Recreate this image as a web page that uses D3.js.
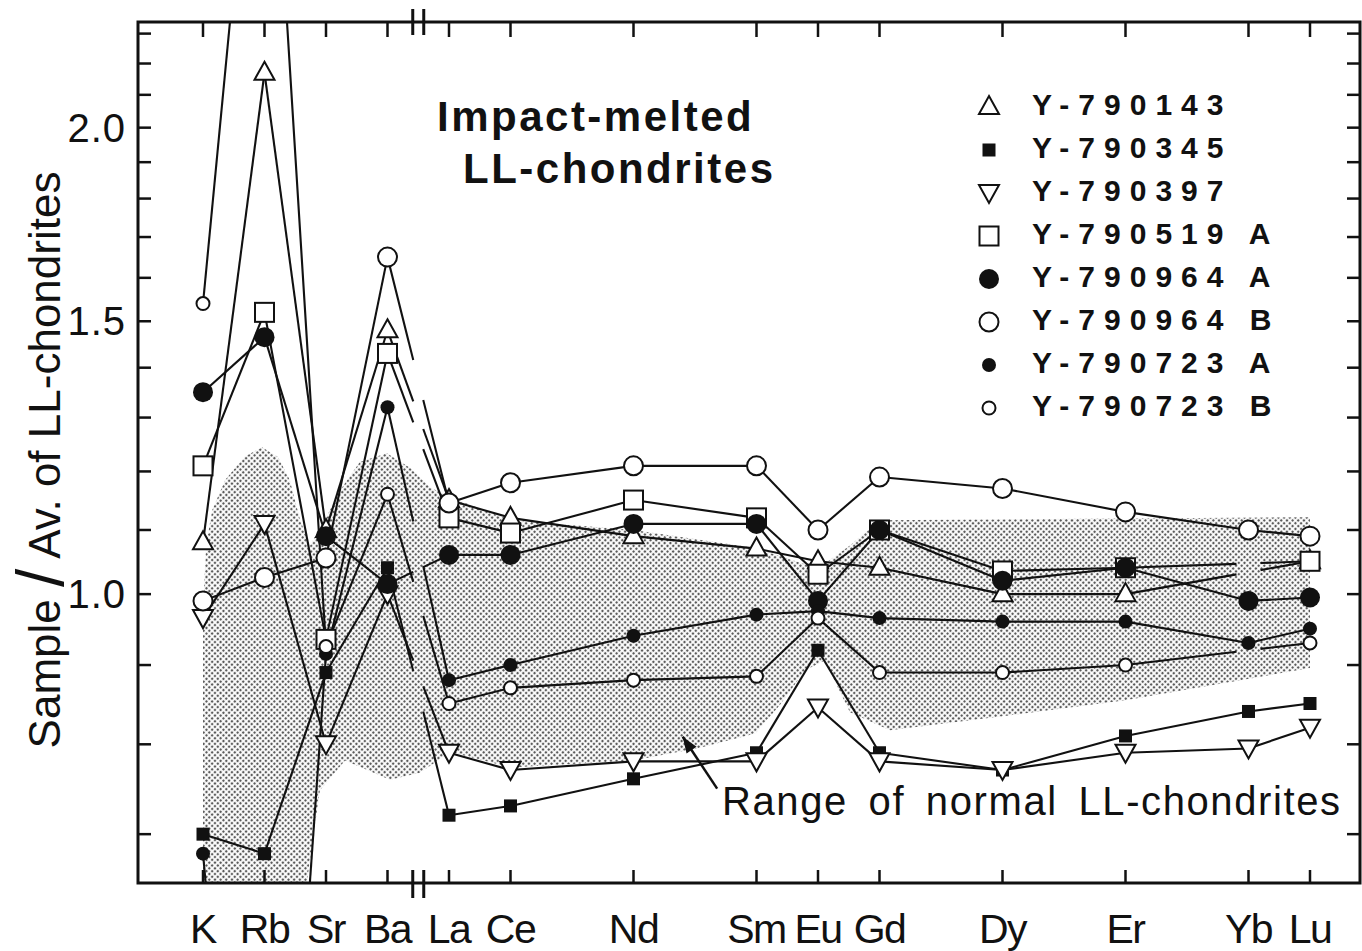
<!DOCTYPE html>
<html>
<head>
<meta charset="utf-8">
<script src="https://cdn.jsdelivr.net/npm/d3@7"></script>
<style>
  body { margin: 0; background: #fff; }
  text { font-family: "Liberation Sans", Arial, Helvetica, sans-serif; fill: #111; }
</style>
</head>
<body>
<svg id="chart" width="1362" height="951"></svg>
<script>
// ---- data -------------------------------------------------------------
const elements = ["K", "Rb", "Sr", "Ba", "La", "Ce", "Nd", "Sm", "Eu", "Gd", "Dy", "Er", "Yb", "Lu"];
// horizontal slot of each element (REE placed by atomic number, trace elements evenly before La)
const slots = [53, 54, 55, 56, 57, 58, 60, 62, 63, 64, 66, 68, 70, 71];
const axisBreakSlot = 56.5;

const yMinorTicks = [0.7, 0.8, 0.9, 1.0, 1.1, 1.2, 1.3, 1.4, 1.5, 1.6, 1.7, 1.8, 1.9, 2.0, 2.1, 2.2, 2.3];
const yTickLabels = [1.0, 1.5, 2.0];

// sample / average LL-chondrite ratios (null = not determined)
const y790143  = [1.08, 2.17, 1.10, 1.48, 1.15, 1.12, 1.09, 1.07, 1.05, 1.04, 1.00, 1.00, null, 1.05];
const y790345  = [0.70, 0.68, 0.89, 1.04, 0.72, 0.73, 0.76, 0.79, 0.92, 0.79, 0.77, 0.81, 0.84, 0.85];
const y790397  = [0.965, 1.11, 0.80, 1.00, 0.79, 0.77, 0.78, 0.78, 0.845, 0.78, 0.77, 0.79, 0.795, 0.82];
const y790519A = [1.21, 1.52, 0.935, 1.43, 1.12, 1.095, 1.15, 1.12, 1.03, 1.10, 1.035, 1.04, null, 1.05];
const y790964A = [1.35, 1.465, 1.09, 1.015, 1.06, 1.06, 1.11, 1.11, 0.99, 1.10, 1.02, 1.04, 0.99, 0.995];
const y790964B = [0.99, 1.025, 1.055, 1.65, 1.145, 1.18, 1.21, 1.21, 1.10, 1.19, 1.17, 1.13, 1.10, 1.09];
const y790723A = [0.68, 0.25, 0.915, 1.32, 0.88, 0.90, 0.94, 0.97, 0.975, 0.965, 0.96, 0.96, 0.93, 0.95];
const y790723B = [1.54, 4.0, 0.925, 1.16, 0.85, 0.87, 0.88, 0.885, 0.965, 0.89, 0.89, 0.90, null, 0.93];

const sampleNames = ["Y-790143", "Y-790345", "Y-790397", "Y-790519 A", "Y-790964 A", "Y-790964 B", "Y-790723 A", "Y-790723 B"];
const sampleValues = [y790143, y790345, y790397, y790519A, y790964A, y790964B, y790723A, y790723B];
const sampleMarkers = ["triUp", "squareSmall", "triDown", "squareOpen", "circleBig", "circleBigOpen", "circleSmall", "circleSmallOpen"];

// outline of the range of normal LL-chondrites, [slot, ratio]
const rangeUpper = [
  [53.0, 0.976], [53.05, 1.075], [53.15, 1.133], [53.36, 1.185], [53.68, 1.227], [53.96, 1.244],
  [54.22, 1.226], [54.41, 1.185], [54.58, 1.116], [54.74, 1.075], [54.98, 1.116], [55.23, 1.167],
  [55.55, 1.217], [55.99, 1.233], [56.37, 1.206], [56.69, 1.172], [57.02, 1.155], [58.0, 1.116],
  [60.0, 1.100], [61.98, 1.071], [63.0, 1.039], [63.52, 1.075], [64.0, 1.116], [71.0, 1.121]
];
const rangeLower = [
  [71.0, 0.896], [68.0, 0.854], [66.0, 0.834], [64.17, 0.817], [63.52, 0.839], [63.11, 0.906],
  [62.79, 0.893], [62.38, 0.848], [61.98, 0.813], [61.08, 0.796], [60.0, 0.781], [58.0, 0.773],
  [57.02, 0.791], [56.53, 0.767], [56.04, 0.759], [55.31, 0.781], [54.9, 0.747], [54.66, 0.64],
  [53.0, 0.64]
];

// ---- layout -----------------------------------------------------------
const frame = { left: 138, right: 1360, top: 22, bottom: 883 };
const svg = d3.select("#chart");

const x = d3.scaleLinear().domain([53, 71]).range([203, 1310]);
const y = d3.scaleLog().domain([0.651, 2.34]).range([frame.bottom, frame.top]);

const defs = svg.append("defs");
defs.append("clipPath").attr("id", "plotClip")
  .append("rect")
  .attr("x", frame.left).attr("y", frame.top)
  .attr("width", frame.right - frame.left).attr("height", frame.bottom - frame.top);

// halftone dot screen for the shaded range
const stipple = defs.append("pattern").attr("id", "stipple")
  .attr("width", 4).attr("height", 4).attr("patternUnits", "userSpaceOnUse")
  .attr("patternTransform", "rotate(45)");
stipple.append("rect").attr("width", 4).attr("height", 4).attr("fill", "#fff");
stipple.append("circle").attr("cx", 2).attr("cy", 2).attr("r", 1.25).attr("fill", "#5a5a5a");

// ---- shaded range -----------------------------------------------------
const plotG = svg.append("g").attr("clip-path", "url(#plotClip)");
const areaLine = d3.line()
  .x(d => x(d[0])).y(d => y(d[1]))
  .curve(d3.curveLinearClosed);
plotG.append("path")
  .attr("d", areaLine(rangeUpper.concat(rangeLower)))
  .attr("fill", "url(#stipple)")
  .attr("stroke", "none");

// ---- connecting lines -------------------------------------------------
const breakX = x(axisBreakSlot);
function segmentWithGaps(p, q, gaps) {
  // split segment p-q, leaving out horizontal intervals listed in gaps
  const pieces = [];
  let t0 = 0;
  const cuts = gaps
    .map(([g0, g1]) => [(g0 - p[0]) / (q[0] - p[0]), (g1 - p[0]) / (q[0] - p[0])])
    .filter(([a, b]) => b > 0 && a < 1)
    .sort((a, b) => a[0] - b[0]);
  cuts.forEach(([a, b]) => {
    if (a > t0) pieces.push([t0, a]);
    t0 = Math.max(t0, b);
  });
  if (t0 < 1) pieces.push([t0, 1]);
  return pieces.map(([a, b]) => [
    [p[0] + (q[0] - p[0]) * a, p[1] + (q[1] - p[1]) * a],
    [p[0] + (q[0] - p[0]) * b, p[1] + (q[1] - p[1]) * b]
  ]);
}

const linesG = plotG.append("g")
  .attr("fill", "none").attr("stroke", "#111")
  .attr("stroke-width", 2.1).attr("stroke-linecap", "butt");
const segPath = d3.line();

sampleValues.forEach(vals => {
  const pts = vals.map((v, i) => v == null ? null : { i, px: [x(slots[i]), y(v)] }).filter(d => d);
  for (let k = 0; k < pts.length - 1; k++) {
    const a = pts[k], b = pts[k + 1];
    const gaps = [];
    if (slots[a.i] < axisBreakSlot && slots[b.i] > axisBreakSlot) gaps.push([breakX - 5, breakX + 5]);
    for (let j = a.i + 1; j < b.i; j++) gaps.push([x(slots[j]) - 12, x(slots[j]) + 12]);
    segmentWithGaps(a.px, b.px, gaps).forEach(s => linesG.append("path").attr("d", segPath(s)));
  }
});

// ---- markers ----------------------------------------------------------
function marker(g, type, cx, cy) {
  const k = "#111";
  switch (type) {
    case "triUp":
      return g.append("path").attr("d", `M${cx},${cy - 11}L${cx + 10},${cy + 7}L${cx - 10},${cy + 7}Z`)
        .attr("fill", "#fff").attr("stroke", k).attr("stroke-width", 2);
    case "triDown":
      return g.append("path").attr("d", `M${cx - 10},${cy - 8}L${cx + 10},${cy - 8}L${cx},${cy + 10}Z`)
        .attr("fill", "#fff").attr("stroke", k).attr("stroke-width", 2);
    case "squareOpen":
      return g.append("rect").attr("x", cx - 9.5).attr("y", cy - 9.5).attr("width", 19).attr("height", 19)
        .attr("fill", "#fff").attr("stroke", k).attr("stroke-width", 2);
    case "squareSmall":
      return g.append("rect").attr("x", cx - 6.5).attr("y", cy - 6.5).attr("width", 13).attr("height", 13)
        .attr("fill", k);
    case "circleBig":
      return g.append("circle").attr("cx", cx).attr("cy", cy).attr("r", 10).attr("fill", k);
    case "circleBigOpen":
      return g.append("circle").attr("cx", cx).attr("cy", cy).attr("r", 9.5)
        .attr("fill", "#fff").attr("stroke", k).attr("stroke-width", 2);
    case "circleSmall":
      return g.append("circle").attr("cx", cx).attr("cy", cy).attr("r", 7).attr("fill", k);
    case "circleSmallOpen":
      return g.append("circle").attr("cx", cx).attr("cy", cy).attr("r", 6.5)
        .attr("fill", "#fff").attr("stroke", k).attr("stroke-width", 2);
  }
}

const markG = plotG.append("g");
sampleValues.forEach((vals, s) => {
  vals.forEach((v, i) => {
    if (v == null) return;
    marker(markG, sampleMarkers[s], x(slots[i]), y(v));
  });
});

// ---- frame and axes ---------------------------------------------------
const axG = svg.append("g").attr("stroke", "#111").attr("fill", "none");
axG.append("rect")
  .attr("x", frame.left).attr("y", frame.top)
  .attr("width", frame.right - frame.left).attr("height", frame.bottom - frame.top)
  .attr("stroke-width", 3);

const tickLen = 13;
yMinorTicks.forEach(v => {
  axG.append("line").attr("x1", frame.left).attr("x2", frame.left + tickLen)
    .attr("y1", y(v)).attr("y2", y(v)).attr("stroke-width", 2.5);
  axG.append("line").attr("x1", frame.right).attr("x2", frame.right - tickLen)
    .attr("y1", y(v)).attr("y2", y(v)).attr("stroke-width", 2.5);
});
slots.forEach(s => {
  axG.append("line").attr("x1", x(s)).attr("x2", x(s))
    .attr("y1", frame.top).attr("y2", frame.top + tickLen + 2).attr("stroke-width", 2.5);
  axG.append("line").attr("x1", x(s)).attr("x2", x(s))
    .attr("y1", frame.bottom).attr("y2", frame.bottom - tickLen).attr("stroke-width", 2.5);
});
// axis-break marks
[-5.5, 5.5].forEach(dx => {
  axG.append("line").attr("x1", breakX + dx).attr("x2", breakX + dx)
    .attr("y1", frame.top - 13).attr("y2", frame.top + 13).attr("stroke-width", 3);
  axG.append("line").attr("x1", breakX + dx).attr("x2", breakX + dx)
    .attr("y1", frame.bottom - 13).attr("y2", frame.bottom + 15).attr("stroke-width", 3);
});

// tick labels
svg.append("g").selectAll("text").data(yTickLabels).join("text")
  .attr("x", 126).attr("y", d => y(d) + 14)
  .attr("text-anchor", "end").attr("font-size", 40).attr("letter-spacing", 1)
  .text(d => d.toFixed(1));

svg.append("g").selectAll("text").data(elements).join("text")
  .attr("x", (d, i) => x(slots[i])).attr("y", 943)
  .attr("text-anchor", "middle").attr("font-size", 41).attr("letter-spacing", -1.5)
  .text(d => d);

// y-axis title
const yTitle = svg.append("text")
  .attr("transform", "translate(60,460) rotate(-90)")
  .attr("text-anchor", "middle").attr("font-size", 44);
yTitle.append("tspan").text("Sample ");
yTitle.append("tspan").attr("font-size", 66).attr("dy", 3).text("/");
yTitle.append("tspan").attr("dy", -3).text(" Av. of LL-chondrites");

// chart title
svg.append("text").attr("x", 437).attr("y", 131)
  .attr("font-size", 42).attr("font-weight", "bold").attr("letter-spacing", 2.5)
  .text("Impact-melted");
svg.append("text").attr("x", 463).attr("y", 183)
  .attr("font-size", 42).attr("font-weight", "bold").attr("letter-spacing", 2.5)
  .text("LL-chondrites");

// range annotation with arrow
const arrowTip = [x(60.8), y(0.809)], arrowTail = [x(61.36), y(0.749)];
svg.append("line")
  .attr("x1", arrowTail[0]).attr("y1", arrowTail[1]).attr("x2", arrowTip[0]).attr("y2", arrowTip[1])
  .attr("stroke", "#111").attr("stroke-width", 2.5);
{
  const ang = Math.atan2(arrowTip[1] - arrowTail[1], arrowTip[0] - arrowTail[0]);
  const L = 16, Wd = 6;
  const bx = arrowTip[0] - L * Math.cos(ang), by = arrowTip[1] - L * Math.sin(ang);
  const nx = -Math.sin(ang) * Wd, ny = Math.cos(ang) * Wd;
  svg.append("path")
    .attr("d", `M${arrowTip[0]},${arrowTip[1]}L${bx + nx},${by + ny}L${bx - nx},${by - ny}Z`)
    .attr("fill", "#111");
}
svg.append("text").attr("x", 722).attr("y", 815)
  .attr("font-size", 40).attr("word-spacing", 8)
  .attr("textLength", 618).attr("lengthAdjust", "spacing")
  .text("Range of normal LL-chondrites");

// legend
const legend = svg.append("g");
sampleNames.forEach((name, i) => {
  const cy = 105 + i * 43;
  marker(legend, sampleMarkers[i], 989, cy + 2);
  legend.append("text").attr("x", 1032).attr("y", cy + 10)
    .attr("font-size", 30).attr("font-weight", "bold").attr("letter-spacing", 9)
    .text(name);
});
</script>
</body>
</html>
